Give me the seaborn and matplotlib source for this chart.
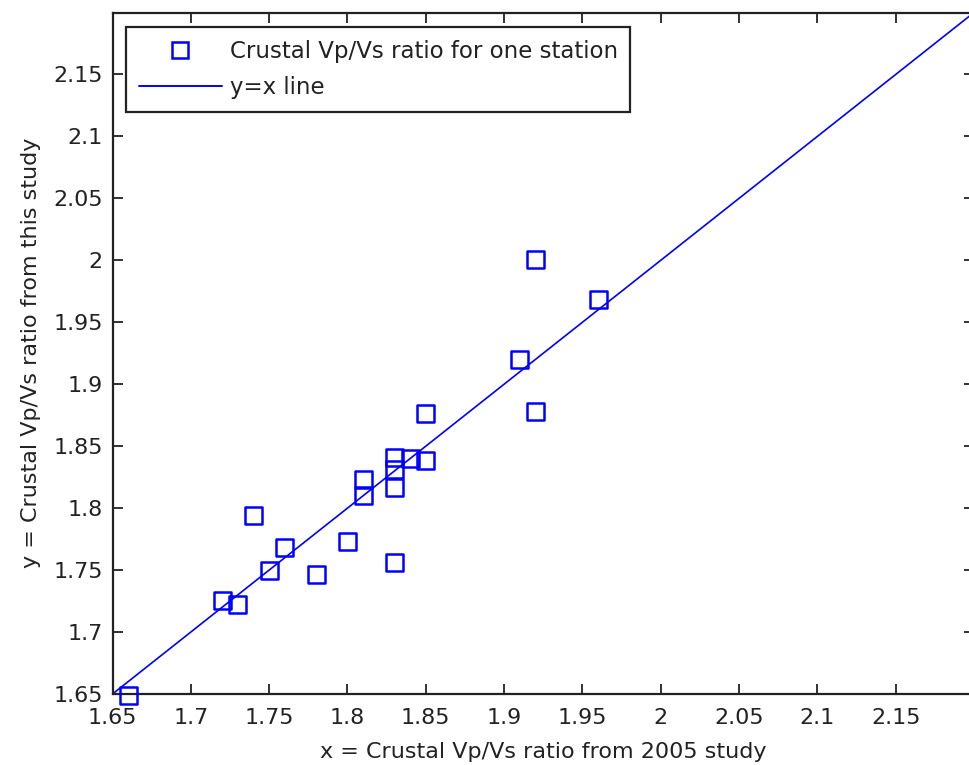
import numpy as np
import pandas as pd
import matplotlib
matplotlib.use("Agg")
import matplotlib.pyplot as plt
import seaborn as sns
from matplotlib.lines import Line2D

# Data
x_2005 = [1.66, 1.72, 1.73, 1.74, 1.75, 1.76, 1.78, 1.80, 1.81, 1.81, 1.83,
          1.83, 1.83, 1.83, 1.84, 1.85, 1.85, 1.91, 1.92, 1.92, 1.96]
y_this = [1.6486, 1.7257, 1.7222, 1.7937, 1.7498, 1.7681, 1.7465, 1.7727, 1.8228,
          1.8099, 1.7565, 1.8167, 1.8309, 1.8409, 1.8404, 1.8388, 1.8765, 1.9199,
          1.8782, 2.0006, 1.9685]
line_x = [1.65, 2.2]
x_ticks = [1.65, 1.7, 1.75, 1.8, 1.85, 1.9, 1.95, 2.0, 2.05, 2.1, 2.15]
y_ticks = [1.65, 1.7, 1.75, 1.8, 1.85, 1.9, 1.95, 2.0, 2.05, 2.1, 2.15]
tick_labels = ["1.65", "1.7", "1.75", "1.8", "1.85", "1.9", "1.95", "2", "2.05", "2.1", "2.15"]
scatter_label = "Crustal Vp/Vs ratio for one station"
line_label = "y=x line"
xlabel = "x = Crustal Vp/Vs ratio from 2005 study"
ylabel = "y = Crustal Vp/Vs ratio from this study"

sns.set_style("ticks")
plt.rcParams['font.family'] = ['DejaVu Sans']

W, H = 969, 765
fig = plt.figure(figsize=(W / 100, H / 100), dpi=100)
left, right, top, bottom = 112.5, 974, 12.5, 694
ax = fig.add_axes([left / W, 1 - bottom / H, (right - left) / W, (bottom - top) / H])

blue = "#0000FF"
text_color = "#222222"
df = pd.DataFrame({"x": x_2005, "y": y_this})
line_df = pd.DataFrame({"x": line_x, "y": line_x})

sns.lineplot(data=line_df, x="x", y="y", ax=ax, color=blue, linewidth=1.2, zorder=2)
sns.scatterplot(data=df, x="x", y="y", ax=ax, marker="s", s=150,
                facecolor="none", edgecolor=blue, linewidth=1.8, zorder=3,
                clip_on=False)

ax.set_xlim(1.65, 2.2)
ax.set_ylim(1.65, 2.2)
ax.set_xticks(x_ticks)
ax.set_xticklabels(tick_labels)
ax.set_yticks(y_ticks)
ax.set_yticklabels(tick_labels)
ax.tick_params(axis="x", direction="in", length=7, width=1.3, top=True,
               labelsize=16, colors=text_color, pad=10)
ax.tick_params(axis="y", direction="in", length=7, width=1.3, right=True,
               labelsize=16, colors=text_color, pad=7)
for s in ax.spines.values():
    s.set_visible(True)
    s.set_color("#222222")
    s.set_linewidth(1.6)

ax.set_xlabel(xlabel, fontsize=16, labelpad=10, color=text_color)
ax.set_ylabel(ylabel, fontsize=16, labelpad=9, color=text_color)

handles = [
    Line2D([], [], linestyle="none", marker="s", markersize=11.5, markerfacecolor="none",
           markeredgecolor=blue, markeredgewidth=1.8),
    Line2D([], [], color=blue, linewidth=1.4),
]
leg = ax.legend(handles, [scatter_label, line_label], loc="upper left",
                bbox_to_anchor=(0.0162, 0.9787), borderaxespad=0, fontsize=16.5,
                handlelength=3.6, handletextpad=0.35, labelspacing=0.58,
                fancybox=False, framealpha=1, edgecolor="#222222", borderpad=0.55)
leg.get_frame().set_linewidth(1.6)
for t in leg.get_texts():
    t.set_color(text_color)

fig.savefig("out.png", dpi=100)
